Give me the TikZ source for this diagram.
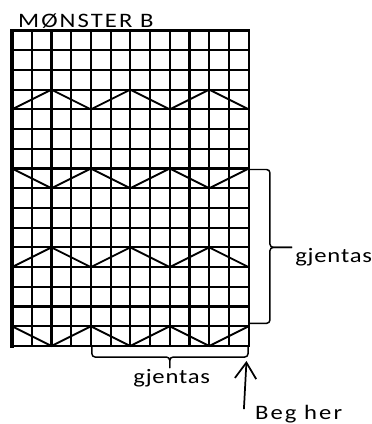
\documentclass[tikz,border=0pt]{standalone}
\usepackage{fontspec}
\setmainfont{Carlito}[FakeStretch=1.2, LetterSpace=10]
\usetikzlibrary{arrows.meta,positioning}

\begin{document}
\begin{tikzpicture}[
    x=14.79pt,
    y=14.79pt,
    >={Straight Barb[length=12pt,width=16pt]},
    font=\fontsize{15.4}{18}\selectfont,
    chart/.style={
		draw=black,
		line width=1.6pt,
		line cap=rect
	},
	zigzag/.style={
		draw=black,
		line width=1.4pt,
		line join=miter
	},
	brc/.style={
		draw=black,
		line width=1.1pt,
		rounded corners=2.5pt
	},
	txt/.style={
		inner sep=0pt,
		anchor=base west
	},
	rep/.style={
		txt,
		font=\fontsize{15.4}{18}\selectfont\addfontfeatures{LetterSpace=4}
	}
  ]

\useasboundingbox (-0.6085,-3.955) rectangle (18.205,17.546);

% // the chart
\foreach \c in {0,...,12} \draw [chart] (\c,0) -- (\c,16);
\foreach \r in {0,...,16} \draw [chart] (0,\r) -- (12,\r);
\draw [chart, line width=2.3pt] (0,0) -- (0,16);
\draw [chart, line width=2.1pt] (0,16) -- (12,16);

% // zigzag rows
\foreach \r/\s in {0/1, 4/0, 8/1, 12/0} {
  \draw [zigzag] (0,\r+\s) \foreach \c in {2,4,...,12} { -- (\c,{\r+mod(\c/2+\s,2)}) };
}

\node [txt] (title) at (0.3,16.13) {MØNSTER B};

% // repeat braces
\coordinate (rtop) at (12,8.95);
\coordinate (rbot) at (12,1.15);
\coordinate (tipR) at (14.2,5);
\draw [brc] (rtop) -- (13.08,8.95) -- (13.08,5) -- (tipR);
\draw [brc] (rbot) -- (13.08,1.15) -- (13.08,5) -- (tipR);

\coordinate (bleft) at (4.05,0);
\coordinate (bright) at (11.97,0);
\coordinate (tipB) at (8.0,-1.12);
\draw [brc] (bleft) -- (4.05,-0.56) -- (8.0,-0.56) -- (tipB);
\draw [brc] (bright) -- (11.97,-0.56) -- (8.0,-0.56) -- (tipB);

\node [rep] (gjentasR) at (14.35,4.21) {gjentas};
\node [rep, anchor=base] (gjentasB) at (8.1,-1.88) {gjentas};

% // start
\node [txt] (begher) at (12.32,-3.75) {Beg her};
\coordinate (tipA) at (11.89,-0.76);
\coordinate (footA) at (11.76,-3.2);
\draw [->, line width=1.3pt] (footA) -- (tipA);

\end{tikzpicture}
\end{document}
